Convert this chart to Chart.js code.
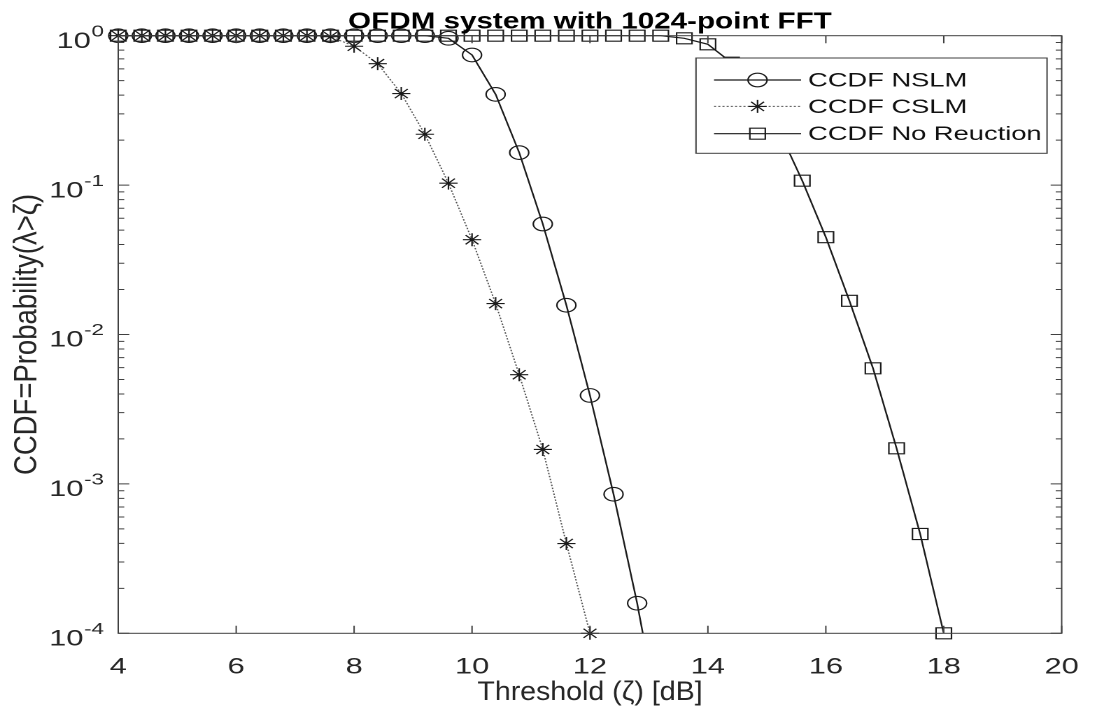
<!DOCTYPE html>
<html>
<head>
<meta charset="utf-8">
<title>OFDM system with 1024-point FFT</title>
<script src="https://cdn.jsdelivr.net/npm/chart.js@4.4.1/dist/chart.umd.min.js"></script>
<style>
  html, body { margin: 0; padding: 0; background: #fff; overflow: hidden; }
  /* the original figure is stretched sideways, so the whole chart is drawn narrow and widened */
  #wrap {
    position: absolute; left: 0; top: 0;
    width: 784px; height: 710px;
    transform: scaleX(1.39923);
    transform-origin: 0 0;
  }
</style>
</head>
<body>
<div id="wrap"><canvas id="ccdfChart"></canvas></div>
<script>
/* ── DATA ── */
const nslmX = [4, 4.4, 4.8, 5.2, 5.6, 6, 6.4, 6.8, 7.2, 7.6, 8, 8.4, 8.8, 9.2, 9.6, 10, 10.4, 10.8, 11.2, 11.6, 12, 12.4, 12.8, 13.2];
const nslmY = [1, 1, 1, 1, 1, 1, 1, 1, 1, 1, 1, 1, 1, 1, 0.961, 0.743, 0.405, 0.165, 0.0549, 0.0157, 0.00391, 0.000853, 0.000159, 0.000023];

const cslmX = [4, 4.4, 4.8, 5.2, 5.6, 6, 6.4, 6.8, 7.2, 7.6, 8, 8.4, 8.8, 9.2, 9.6, 10, 10.4, 10.8, 11.2, 11.6, 12];
const cslmY = [1, 1, 1, 1, 1, 1, 1, 1, 1, 0.985, 0.85, 0.65, 0.41, 0.219, 0.103, 0.0431, 0.0161, 0.00538, 0.0017, 0.000399, 0.0001];

const origX = [4, 4.4, 4.8, 5.2, 5.6, 6, 6.4, 6.8, 7.2, 7.6, 8, 8.4, 8.8, 9.2, 9.6, 10, 10.4, 10.8, 11.2, 11.6, 12, 12.4, 12.8, 13.2, 13.6, 14, 14.4, 14.8, 15.2, 15.6, 16, 16.4, 16.8, 17.2, 17.6, 18];
const origY = [1, 1, 1, 1, 1, 1, 1, 1, 1, 1, 1, 1, 1, 1, 1, 1, 1, 1, 1, 1, 1, 1, 1, 1, 0.961, 0.876, 0.66, 0.43, 0.235, 0.107, 0.0448, 0.0168, 0.00594, 0.00173, 0.000462, 0.0001];

const seriesNames = ['CCDF NSLM', 'CCDF CSLM', 'CCDF No Reuction'];
const xTicks = [4, 6, 8, 10, 12, 14, 16, 18, 20];
const yExponents = [0, -1, -2, -3, -4];

const chartTitle = 'OFDM system with 1024-point FFT';
const xTitle = 'Threshold (ζ) [dB]';
const yTitle = 'CCDF=Probability(λ>ζ)';

const FONT = '"Liberation Sans", Arial, Helvetica, sans-serif';
const INK = '#1a1a1a';
const AXIS = '#404040';

function pairs(xs, ys) {
    return xs.map((x, i) => ({ x: x, y: ys[i] }));
}

// text squeezed sideways (the axis labels and title are narrower than the rest)
function squeezedText(ctx, text, x, y, sx, font, rotate) {
    ctx.save();
    ctx.translate(x, y);
    ctx.scale(sx, 1);
    if (rotate) ctx.rotate(-Math.PI / 2);
    ctx.font = font;
    ctx.textAlign = 'center';
    ctx.textBaseline = 'alphabetic';
    ctx.fillText(text, 0, 0);
    ctx.restore();
}

/* ── AXES BOX, INWARD TICKS, LOG LABELS, TITLES, LEGEND ── */
const matlabAxes = {
    id: 'matlabAxes',
    afterDatasetsDraw(chart) {
        const { ctx, chartArea: a, scales: { x, y } } = chart;
        ctx.save();
        ctx.strokeStyle = AXIS;
        ctx.lineWidth = 1;
        ctx.strokeRect(a.left, a.top, a.right - a.left, a.bottom - a.top);

        ctx.beginPath();
        xTicks.forEach(v => {
            const px = x.getPixelForValue(v);
            ctx.moveTo(px, a.bottom); ctx.lineTo(px, a.bottom - 7.5);
            ctx.moveTo(px, a.top); ctx.lineTo(px, a.top + 7.5);
        });
        yExponents.forEach(e => {
            for (let m = 1; m <= 9; m++) {
                const v = m * Math.pow(10, e);
                if (v > 1.0000001) break;
                const py = y.getPixelForValue(v);
                const len = m === 1 ? 7.9 : 4.3;
                ctx.moveTo(a.left, py); ctx.lineTo(a.left + len, py);
                ctx.moveTo(a.right, py); ctx.lineTo(a.right - len, py);
            }
        });
        ctx.stroke();

        ctx.fillStyle = '#262626';
        ctx.textAlign = 'right';
        ctx.textBaseline = 'alphabetic';
        yExponents.forEach(e => {
            const py = y.getPixelForValue(Math.pow(10, e));
            const exp = String(e);
            const expRight = a.left - 10.2;
            ctx.font = '16px ' + FONT;
            const ew = ctx.measureText(exp).width;
            ctx.fillText(exp, expRight, py + 0.7);
            ctx.font = '22px ' + FONT;
            ctx.fillText('10', expRight - ew - 0.5, py + 12.2);
        });

        const cx = (a.left + a.right) / 2;
        ctx.fillStyle = '#000';
        squeezedText(ctx, chartTitle, cx, 28.3, 0.92, 'bold 23px ' + FONT, false);
        ctx.fillStyle = '#262626';
        squeezedText(ctx, xTitle, cx, 700, 0.77, '26.5px ' + FONT, false);
        squeezedText(ctx, yTitle, 26.2, (a.top + a.bottom) / 2, 0.84, '27.5px ' + FONT, true);
        ctx.restore();
    },
    afterDraw(chart) {
        const { ctx } = chart;
        const box = { left: 497.4, top: 58, right: 748.3, bottom: 153.3 };
        const rows = [80, 106.4, 133.7];
        ctx.save();
        ctx.fillStyle = '#fff';
        ctx.fillRect(box.left, box.top, box.right - box.left, box.bottom - box.top);
        ctx.strokeStyle = AXIS;
        ctx.lineWidth = 1;
        ctx.strokeRect(box.left, box.top, box.right - box.left, box.bottom - box.top);

        chart.data.datasets.forEach((ds, i) => {
            const ry = rows[i];
            ctx.strokeStyle = ds.borderColor;
            ctx.lineWidth = ds.borderWidth;
            ctx.setLineDash(ds.borderDash || []);
            ctx.beginPath();
            ctx.moveTo(510.3, ry); ctx.lineTo(572.5, ry);
            ctx.stroke();
            ctx.setLineDash([]);
            ctx.strokeStyle = ds.pointBorderColor;
            ctx.fillStyle = 'rgba(0,0,0,0)';
            ctx.lineWidth = ds.pointBorderWidth;
            Chart.helpers.drawPoint(ctx, {
                pointStyle: ds.pointStyle,
                radius: ds.pointRadius,
                rotation: 0,
                borderWidth: ds.pointBorderWidth
            }, 541.4, ry);

            ctx.fillStyle = '#111';
            ctx.font = '19.5px ' + FONT;
            ctx.textAlign = 'left';
            ctx.textBaseline = 'middle';
            ctx.fillText(seriesNames[i], 577.5, ry + 1);
        });
        ctx.restore();
    }
};

/* ── GRÁFICO ── */
const ctx = document.getElementById('ccdfChart');

const ccdfChart = new Chart(ctx, {
    type: 'line',
    data: {
        datasets: [{
            label: seriesNames[0],
            data: pairs(nslmX, nslmY),
            borderColor: INK,
            borderWidth: 1.2,
            pointStyle: 'circle',
            pointRadius: 6.8,
            pointBorderColor: INK,
            pointBorderWidth: 1.1,
            pointBackgroundColor: 'rgba(0,0,0,0)',
            clip: { left: 12, top: 12, right: 12, bottom: 0 },
            order: 3
        }, {
            label: seriesNames[1],
            data: pairs(cslmX, cslmY),
            borderColor: '#555',
            borderWidth: 1,
            borderDash: [1.5, 1.5],
            pointStyle: 'star',
            pointRadius: 6.5,
            pointBorderColor: INK,
            pointBorderWidth: 1.1,
            pointBackgroundColor: 'rgba(0,0,0,0)',
            clip: 12,
            order: 2
        }, {
            label: seriesNames[2],
            data: pairs(origX, origY),
            borderColor: INK,
            borderWidth: 1.2,
            pointStyle: 'rect',
            pointRadius: 7.8,
            pointBorderColor: INK,
            pointBorderWidth: 1.1,
            pointBackgroundColor: 'rgba(0,0,0,0)',
            clip: 12,
            order: 1
        }]
    },
    options: {
        responsive: true,
        maintainAspectRatio: false,
        devicePixelRatio: 2,
        animation: false,
        layout: {
            padding: { left: 0, right: 15, top: 35.7, bottom: 0 }
        },
        plugins: {
            legend: { display: false },
            tooltip: { enabled: false },
            title: { display: false }
        },
        scales: {
            x: {
                type: 'linear',
                min: 4,
                max: 20,
                afterFit(scale) { scale.height = 76.7; },
                ticks: {
                    stepSize: 2,
                    color: '#262626',
                    padding: 13,
                    autoSkip: false,
                    maxRotation: 0,
                    font: { family: FONT, size: 22 }
                },
                grid: { display: false },
                border: { display: false }
            },
            y: {
                type: 'logarithmic',
                min: 0.0001,
                max: 1,
                afterFit(scale) { scale.width = 84.5; },
                ticks: { display: false },
                grid: { display: false },
                border: { display: false }
            }
        }
    },
    plugins: [matlabAxes]
});
</script>
</body>
</html>
